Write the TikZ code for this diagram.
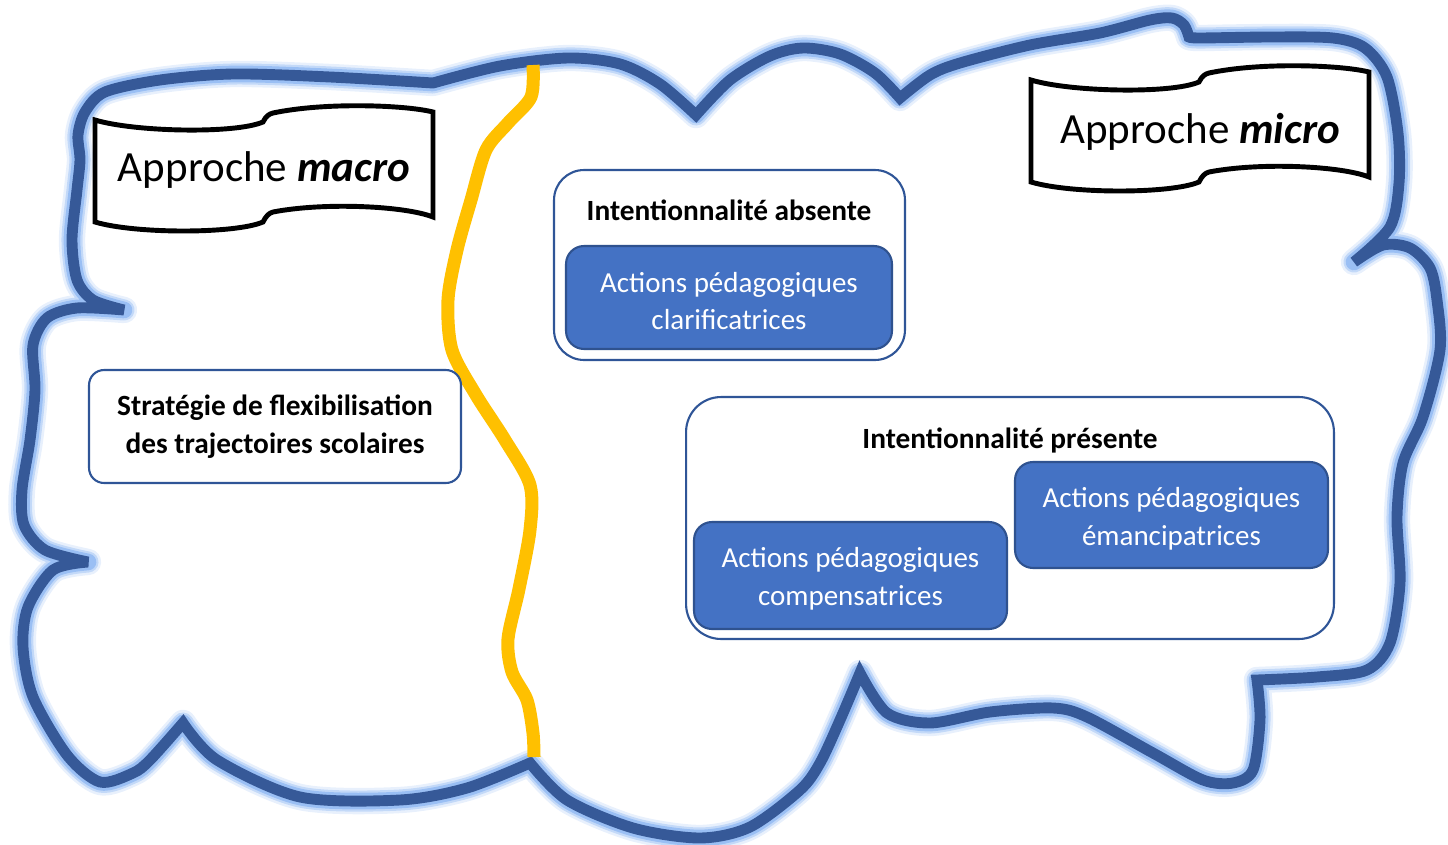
\documentclass[tikz,border=0pt]{standalone}
\usepackage{fontspec}
\setmainfont{Carlito}
\definecolor{cloudblue}{RGB}{54,89,152}
\definecolor{glowblue}{RGB}{140,182,242}
\definecolor{frameblue}{RGB}{47,85,151}
\definecolor{actionblue}{RGB}{68,114,196}
\definecolor{actionedge}{RGB}{47,82,143}
\definecolor{dividegold}{RGB}{255,192,0}
\tikzset{
  cloudline/.style={draw=cloudblue,line width=6.2pt,line join=miter,miter limit=2.6,
    preaction={draw=glowblue,opacity=.2,line width=15pt,line join=round},
    preaction={draw=glowblue,opacity=.4,line width=12pt,line join=round},
    preaction={draw=glowblue,opacity=.75,line width=9.5pt,line join=round}},
  outerbox/.style={draw=frameblue,line width=1.2pt,fill=white,rounded corners=0.6cm},
  actionbox/.style={draw=actionedge,line width=1.2pt,fill=actionblue,rounded corners=0.36cm},
  actiontext/.style={text=white,align=center,font=\fontsize{16.5}{21.5}\selectfont},
  titletext/.style={font=\bfseries\fontsize{16.7}{21.5}\selectfont,align=center},
  bannertext/.style={font=\fontsize{24.5}{28}\selectfont},
  bannerpic/.pic={
    \draw[line width=2.8pt,fill=white] (0,0) .. controls (40,12) and (140,14) .. (168,2)
      .. controls (171,-4) and (174,-6) .. (178,-7) .. controls (230,-18) and (310,-15) .. (338,-8)
      -- (338,97) .. controls (310,86) and (230,82) .. (178,92)
      .. controls (174,93) and (171,96) .. (168,102) .. controls (140,114) and (40,114) .. (0,102) -- cycle;}
}
\begin{document}
\begin{tikzpicture}[x=0.02cm,y=-0.02cm]
\useasboundingbox (0,0) rectangle (1448,845);

\draw[cloudline] plot[smooth] coordinates {(124,310) (93,300) (77,280) (72,240) (77,190) (80,160) (78,135) (85,112) (105,92) (160,80) (233,74) (330,77) (433,83)}
 -- plot[smooth] coordinates {(433,83) (500,66) (568,58) (620,64) (660,84) (696,115)}
 -- plot[smooth] coordinates {(696,115) (730,80) (770,56) (803,48) (840,54) (875,73) (900,98)}
 -- plot[smooth] coordinates {(900,98) (930,75) (960,63) (1030,45) (1100,33) (1150,20) (1172,18) (1184,25) (1189,37)}
 -- plot[smooth] coordinates {(1189,37) (1200,38) (1270,37) (1333,38) (1365,48) (1387,77) (1398,133) (1399,183) (1390,227) (1354,262)}
 -- plot[smooth] coordinates {(1354,262) (1383,245) (1410,248) (1430,268) (1437,300) (1440,350) (1423,417) (1403,463) (1397,517) (1400,583) (1390,643) (1367,670) (1317,677) (1257,680)}
 -- plot[smooth] coordinates {(1257,680) (1260,720) (1253,770) (1233,783) (1203,780) (1153,753) (1087,717) (1053,708) (990,712) (930,723) (887,713) (860,673)}
 -- plot[smooth] coordinates {(860,673) (840,720) (820,763) (800,790) (750,827) (700,838) (633,828) (567,800) (530,763)}
 -- plot[smooth] coordinates {(530,763) (467,788) (400,800) (300,797) (217,760) (183,723)}
 -- plot[smooth] coordinates {(183,723) (150,760) (133,773) (100,782) (67,755) (33,697) (23,647) (28,607) (53,570) (88,562)}
 -- plot[smooth] coordinates {(88,562) (45,550) (24,525) (22,490) (30,440) (35,390) (33,345) (47,318) (77,308) (124,310)} -- cycle;

\draw[dividegold,line width=7.4pt] plot[smooth] coordinates {(533,65) (531,97) (508,123) (486,150) (471,200) (457,250) (448,300) (452,350) (476,395) (505,440) (530,485) (530,530) (519,589) (508,639) (512,672) (527,700) (533,733) (534,757)};

\pic at (95,120) {bannerpic};
\pic at (1031,80) {bannerpic};
\node[bannertext] (macro) at (264,170) {Approche \textbf{\textit{macro}}};
\node[bannertext] (micro) at (1200,132) {Approche \textbf{\textit{micro}}};

\node[outerbox,rounded corners=0.3cm,minimum width=7.44cm,minimum height=2.26cm,titletext] (strategie) at (275,426.5) {Stratégie de flexibilisation\\des trajectoires scolaires};

\node[outerbox,minimum width=7.02cm,minimum height=3.8cm] (absente) at (729.5,265) {};
\node[titletext] (absenteT) at (729,210) {Intentionnalité absente};
\node[actionbox,minimum width=6.52cm,minimum height=2.06cm] (clarif) at (729,297.5) {};
\node[actiontext] (clarifT) at ([yshift=-2pt]clarif.center) {Actions pédagogiques\\clarificatrices};

\node[outerbox,rounded corners=0.7cm,minimum width=12.96cm,minimum height=4.84cm] (presente) at (1010,518) {};
\node[titletext] (presenteT) at (1010,440) {Intentionnalité présente};
\node[actionbox,minimum width=6.26cm,minimum height=2.14cm] (compens) at (850.5,575.5) {};
\node[actiontext] (compensT) at ([yshift=-2pt]compens.center) {Actions pédagogiques\\compensatrices};
\node[actionbox,minimum width=6.26cm,minimum height=2.12cm] (emancip) at (1171.5,515) {};
\node[actiontext] (emancipT) at ([yshift=-2pt]emancip.center) {Actions pédagogiques\\émancipatrices};
\end{tikzpicture}
\end{document}
